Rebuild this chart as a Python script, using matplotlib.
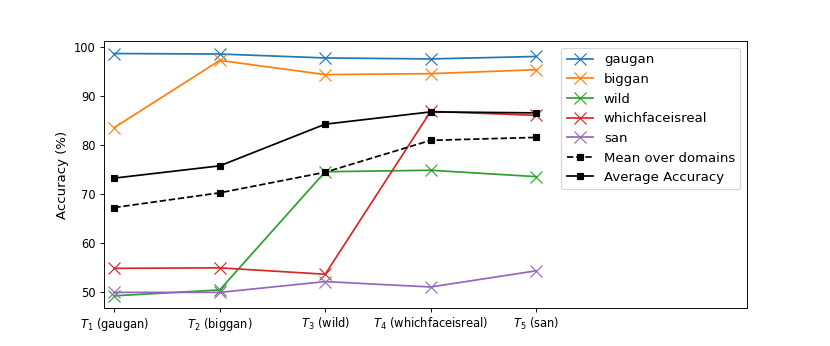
import numpy as np
import matplotlib
matplotlib.use("Agg")
import matplotlib.pyplot as plt

tasks = [r"$T_1$ (gaugan)", r"$T_2$ (biggan)", r"$T_3$ (wild)",
         r"$T_4$ (whichfaceisreal)", r"$T_5$ (san)"]

gaugan = [98.7, 98.6, 97.8, 97.6, 98.1]
biggan = [83.6, 97.3, 94.4, 94.6, 95.4]
wild = [49.3, 50.5, 74.6, 74.9, 73.6]
whichfaceisreal = [54.9, 55.0, 53.7, 86.9, 86.1]
san = [50.0, 50.0, 52.2, 51.1, 54.4]
mean_domains = [67.3, 70.3, 74.5, 81.0, 81.6]
avg_accuracy = [73.3, 75.8, 84.3, 86.8, 86.6]

x = np.arange(len(tasks))

fig, ax = plt.subplots(figsize=(10, 4.17), dpi=83)

for name, vals in [("gaugan", gaugan), ("biggan", biggan), ("wild", wild),
                   ("whichfaceisreal", whichfaceisreal), ("san", san)]:
    ax.plot(x, vals, marker="x", markersize=10, label=name)

ax.plot(x, mean_domains, color="k", linestyle="--", marker="s", markersize=6,
        label="Mean over domains")
ax.plot(x, avg_accuracy, color="k", marker="s", markersize=6,
        label="Average Accuracy")

ax.set_xticks(x)
ax.set_xticklabels(tasks)
ax.set_xlim(-0.1, 6.0)
ax.set_ylabel("Accuracy (%)", fontsize=11.5)
ax.legend(loc="upper right", fontsize=11.5)

plt.savefig("out.png")
plt.close()
